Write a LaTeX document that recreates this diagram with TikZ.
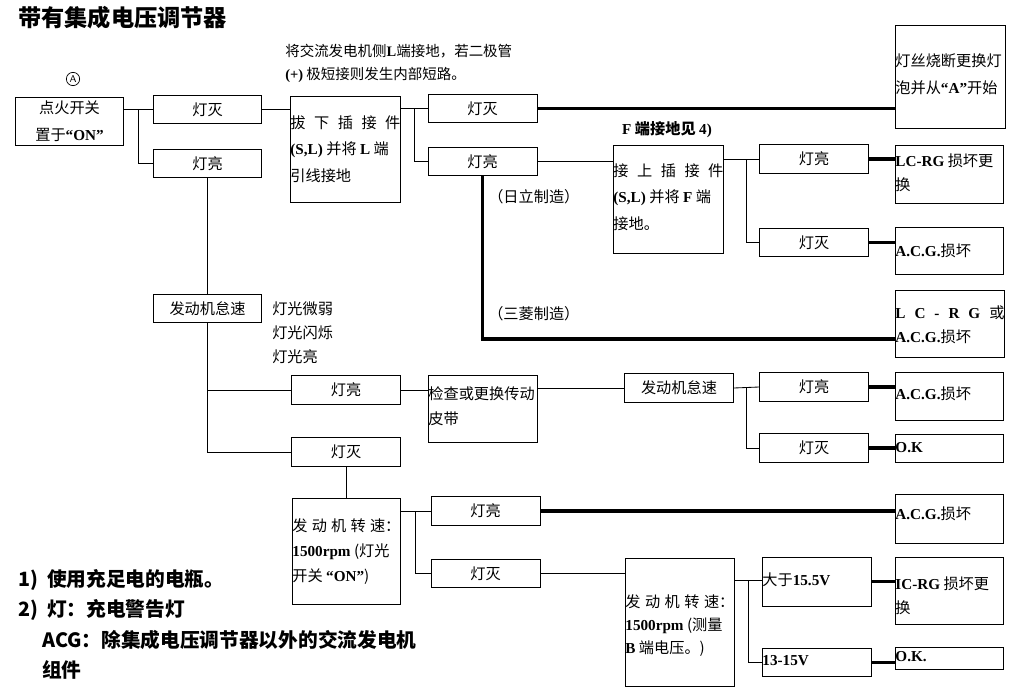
\documentclass[tikz,border=0pt]{standalone}
\usepackage{fontspec}
\usepackage{tikz}
\usetikzlibrary{positioning}
\setmainfont{Noto Sans CJK SC}
\newfontfamily\lat{Liberation Serif}
\newcommand\E[1]{{\lat\bfseries #1}}
\newdimen\pix
\pix=0.025cm
\newcommand\boxfont{\fontsize{10.8pt}{19pt}\selectfont}
\newcommand\tb[5][17pt]{\parbox[t][#3\pix][t]{#2\pix}{\fontsize{10.8pt}{#1}\selectfont\vspace*{#4\pix}#5}}

\begin{document}
\begin{tikzpicture}[x=0.025cm,y=-0.025cm,
  box/.style={draw,line width=0.6pt,minimum width=2.72cm,minimum height=0.72cm,inner sep=0pt,align=center,font=\boxfont},
  tall/.style={draw,line width=0.6pt,anchor=north west,inner sep=0pt},
  note/.style={anchor=west,inner sep=0pt,align=left,font=\boxfont},
  wire/.style={line width=0.6pt},
  heavy/.style={line width=2.2pt}]
  \useasboundingbox (0,0) rectangle (1030,690);
  \node[anchor=west,inner sep=0pt,font=\fontsize{16.5pt}{20pt}\selectfont\bfseries] (title) at (18,18) {带有集成电压调节器};
  \node[circle,draw,line width=0.5pt,inner sep=0.9pt,font=\fontsize{7pt}{7pt}\selectfont\sffamily] (markA) at (73,79) {A};
  \node[box,minimum height=1.2cm,font=\fontsize{10.8pt}{19pt}\selectfont] (start) at (69.5,121) {点火开关\\置于\E{“ON”}};
  \node[box] (mie1) at (207.5,109.5) {灯灭};
  \node[box] (liang1) at (207.5,163.5) {灯亮};
  \node[note,font=\fontsize{10.3pt}{16.5pt}\selectfont] (warn) at (285,63.5) {将交流发电机侧\E{L}端接地，若二极管\\\E{(+)} 极短接则发生内部短路。};
  \node[tall] (baxia) at (290,96) {\tb[19pt]{110}{106}{19}{拔\hfill 下\hfill 插\hfill 接\hfill 件\\\E{(S,L)} 并将 \E{L} 端\\引线接地}};
  \node[box] (mie2) at (482.5,108.5) {灯灭};
  \node[box] (liang2) at (482.5,161.5) {灯亮};
  \node[tall] (dengsi) at (895,25) {\tb[19.5pt]{110}{103}{28}{灯丝烧断更换灯\\泡并从\E{“A”}开始}};
  \node[inner sep=0pt,font=\boxfont\bfseries] (fnote) at (667,130) {\E{F} 端接地见 \E{4)}};
  \node[tall] (jieshang) at (613,145) {\tb[19pt]{110}{108}{18}{接\hfill 上\hfill 插\hfill 接\hfill 件\\\E{(S,L)} 并将 \E{F} 端\\接地。}};
  \node[box] (liang3) at (814,159) {灯亮};
  \node[box] (mie3) at (814,242.5) {灯灭};
  \node[tall] (lcrg1) at (895,145) {\tb[17pt]{108}{58}{8}{\E{LC-RG} 损坏更\\换}};
  \node[tall] (acg1) at (895,227) {\tb{108}{47}{16}{\E{A.C.G.}损坏}};
  \node[tall] (lcrg2) at (895,290) {\tb{109}{67}{15}{\E{L\hfill C\hfill -\hfill R\hfill G}\hfill 或\\\E{A.C.G.}损坏}};
  \node[note] (hitachi) at (488,197) {（日立制造）};
  \node[note] (mitsu) at (488,314) {（三菱制造）};
  \node[box] (fdj1) at (207.5,308.5) {发动机怠速};
  \node[note,font=\fontsize{10.8pt}{17pt}\selectfont] (lamps) at (272,333) {灯光微弱\\灯光闪烁\\灯光亮};
  \node[box] (liang4) at (346,390) {灯亮};
  \node[box] (mie4) at (346,452) {灯灭};
  \node[tall] (jiancha) at (428,375) {\tb[18pt]{109}{67}{11}{检查或更换传动\\皮带}};
  \node[box] (fdj2) at (679,388) {发动机怠速};
  \node[box] (liang5) at (814,387) {灯亮};
  \node[box] (mie5) at (814,448) {灯灭};
  \node[tall] (acg2) at (895,372) {\tb{108}{48}{14}{\E{A.C.G.}损坏}};
  \node[tall] (ok1) at (895,434) {\tb{108}{28}{8}{\E{O.K}}};
  \node[tall] (zhuansu1) at (292,498) {\tb[18pt]{108}{106}{20}{发\hfill 动\hfill 机\hfill 转\hfill 速：\\\E{1500rpm} (灯光\\开关 \E{“ON”})}};
  \node[box] (liang6) at (485.5,511) {灯亮};
  \node[box] (mie6) at (485.5,573.5) {灯灭};
  \node[tall] (acg3) at (895,494) {\tb{108}{49}{12}{\E{A.C.G.}损坏}};
  \node[tall] (zhuansu2) at (625,558) {\tb[16.5pt]{109}{128}{36}{发\hfill 动\hfill 机\hfill 转\hfill 速：\\\E{1500rpm} (测量\\\E{B} 端电压。)}};
  \node[tall] (dayu) at (762,557) {\tb{109}{49}{15}{大于\E{15.5V}}};
  \node[tall] (icrg) at (895,557) {\tb[17pt]{108}{67}{19}{\E{IC-RG} 损坏更\\换}};
  \node[tall] (v1315) at (762,648) {\tb{109}{28}{7}{\E{13-15V}}};
  \node[tall] (ok2) at (895,647) {\tb{108}{22}{4}{\E{O.K.}}};
  \node[anchor=north west,inner sep=0pt,align=left,font=\fontsize{14pt}{21.6pt}\selectfont\bfseries] (remarks) at (18,569) {1)\ \ 使用充足电的电瓶。\\2)\ \ 灯：充电警告灯\\\hspace*{0.6cm}ACG：除集成电压调节器以外的交流发电机\\\hspace*{0.6cm}组件};
  \coordinate (j1) at (138,109.5);
  \coordinate (j2) at (414,108.5);
  \coordinate (j3) at (746,159);
  \coordinate (j4) at (746,388);
  \coordinate (j5) at (415,511);
  \coordinate (j6) at (748,580);
  \coordinate (mitsuend) at (895,339);
  \draw[wire] (start.east |- j1) -- (mie1.west);
  \draw[wire] (j1) |- (liang1.west);
  \draw[wire] (mie1.east) -- (mie1 -| baxia.west);
  \draw[wire] (liang1.south) -- (fdj1.north);
  \draw[wire] (baxia.east |- j2) -- (mie2.west);
  \draw[wire] (j2) |- (liang2.west);
  \draw[heavy] (mie2.east) -- (mie2 -| dengsi.west);
  \draw[wire] (liang2.east) -- (liang2 -| jieshang.west);
  \draw[heavy] (liang2.south) |- (mitsuend);
  \draw[wire] (jieshang.east |- j3) -- (liang3.west);
  \draw[wire] (j3) |- (mie3.west);
  \draw[heavy] (liang3.east) -- (liang3 -| lcrg1.west);
  \draw[heavy] (mie3.east) -- (mie3 -| acg1.west);
  \draw[wire] (fdj1.south) |- (liang4.west);
  \draw[wire] (fdj1.south) |- (mie4.west);
  \draw[wire] (liang4.east) -- (liang4 -| jiancha.west);
  \draw[wire] (jiancha.east |- fdj2) -- (fdj2.west);
  \draw[wire] (fdj2.east) -- (liang5.west);
  \draw[wire] (j4) |- (mie5.west);
  \draw[heavy] (liang5.east) -- (liang5 -| acg2.west);
  \draw[heavy] (mie5.east) -- (mie5 -| ok1.west);
  \draw[wire] (mie4.south) -- (mie4.south |- zhuansu1.north);
  \draw[wire] (zhuansu1.east |- j5) -- (liang6.west);
  \draw[wire] (j5) |- (mie6.west);
  \draw[heavy] (liang6.east) -- (liang6 -| acg3.west);
  \draw[wire] (mie6.east) -- (mie6 -| zhuansu2.west);
  \draw[wire] (zhuansu2.east |- j6) -- (dayu.west |- j6);
  \draw[wire] (j6) |- (v1315.west);
  \draw[heavy] (dayu.east) -- (dayu.east -| icrg.west);
  \draw[heavy] (v1315.east) -- (v1315.east -| ok2.west);
\end{tikzpicture}
\end{document}
